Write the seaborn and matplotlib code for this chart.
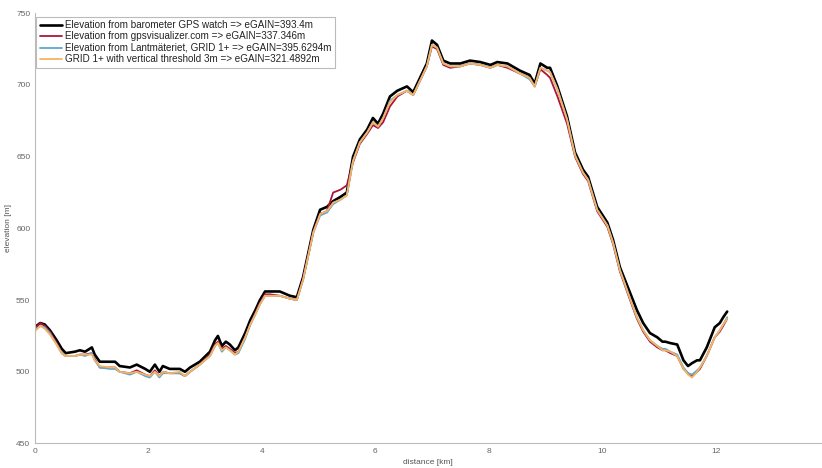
import numpy as np
import pandas as pd
import matplotlib
matplotlib.use("Agg")
import matplotlib.pyplot as plt
import seaborn as sns

distance_km = [0.00, 0.10, 0.18, 0.27, 0.39, 0.48, 0.55, 0.71, 0.80, 0.89, 1.01, 1.06, 1.15, 1.33, 1.42,
               1.50, 1.68, 1.80, 1.95, 2.03, 2.12, 2.20, 2.26, 2.38, 2.56, 2.65, 2.74, 2.91, 3.09, 3.18,
               3.23, 3.30, 3.37, 3.44, 3.53, 3.59, 3.71, 3.80, 3.89, 3.97, 4.06, 4.15, 4.32, 4.50, 4.62,
               4.73, 4.91, 5.03, 5.15, 5.26, 5.39, 5.50, 5.61, 5.73, 5.86, 5.96, 6.05, 6.14, 6.26, 6.39,
               6.56, 6.67, 6.79, 6.91, 7.00, 7.09, 7.20, 7.32, 7.50, 7.67, 7.85, 8.03, 8.15, 8.33, 8.55,
               8.72, 8.81, 8.91, 9.03, 9.08, 9.21, 9.38, 9.52, 9.66, 9.75, 9.91, 10.09, 10.19, 10.31, 10.49,
               10.61, 10.72, 10.84, 10.97, 11.06, 11.11, 11.20, 11.32, 11.43, 11.51, 11.58, 11.67, 11.72,
               11.84, 11.98, 12.07, 12.13, 12.20]

elev_barometer = [531, 534, 533, 529, 522, 516, 513, 514, 515, 514, 517, 512, 507, 507, 507,
                  504, 503, 505, 502, 500, 505, 500, 504, 502, 502, 500, 503, 507, 514, 522,
                  525, 518, 521, 519, 515, 517, 527, 536, 543, 550, 556, 556, 556, 553, 552,
                  566, 599, 613, 615, 619, 622, 625, 650, 662, 669, 677, 673, 680, 692, 696,
                  699, 695, 705, 715, 731, 728, 717, 715, 715, 717, 716, 714, 716, 715, 710,
                  707, 701, 715, 712, 712, 699, 678, 653, 641, 636, 615, 604, 592, 573, 555,
                  543, 534, 527, 524, 521, 521, 520, 519, 508, 504, 506, 508, 508,
                  517, 531, 534, 538, 542]

elev_gpsvisualizer = [530, 534, 532, 528, 520, 513, 511, 511, 512, 512, 513, 509, 503, 503, 503,
                      500, 499, 501, 498, 497, 501, 497, 500, 499, 499, 497, 500, 505, 512, 519,
                      521, 516, 518, 516, 513, 514, 524, 533, 541, 548, 554, 554, 553, 551, 550,
                      565, 598, 610, 612, 625, 627, 630, 646, 659, 666, 672, 670, 674, 685, 692,
                      696, 693, 703, 713, 727, 725, 714, 712, 713, 715, 714, 712, 714, 712, 708,
                      705, 699, 711, 707, 705, 692, 673, 650, 638, 633, 612, 601, 589, 570, 550,
                      537, 528, 521, 517, 515, 515, 513, 511, 502, 499, 497, 500, 502,
                      511, 524, 528, 532, 537]

elev_lantmateriet = [529, 532, 531, 527, 519, 513, 511, 511, 512, 511, 513, 508, 503, 502, 502,
                     500, 498, 500, 497, 496, 500, 496, 499, 499, 499, 497, 500, 505, 511, 518,
                     520, 514, 517, 515, 512, 513, 523, 533, 540, 547, 553, 553, 553, 551, 550,
                     564, 597, 609, 611, 617, 620, 623, 647, 660, 667, 674, 671, 677, 689, 693,
                     696, 693, 703, 713, 728, 726, 715, 713, 713, 715, 714, 712, 714, 713, 708,
                     704, 699, 712, 710, 709, 697, 676, 651, 639, 634, 613, 602, 590, 571, 551,
                     538, 529, 522, 518, 516, 516, 514, 512, 503, 499, 498, 501, 503,
                     511, 524, 529, 533, 538]

elev_threshold = [528, 532, 530, 526, 519, 513, 511, 511, 512, 512, 512, 508, 504, 503, 503,
                  500, 499, 500, 498, 497, 500, 497, 500, 499, 500, 497, 500, 505, 511, 518,
                  520, 515, 517, 515, 512, 514, 524, 533, 540, 547, 553, 553, 553, 551, 550,
                  564, 597, 610, 612, 618, 620, 623, 647, 660, 667, 674, 671, 677, 688, 693,
                  696, 693, 703, 713, 728, 726, 715, 713, 713, 715, 714, 712, 714, 713, 708,
                  705, 699, 712, 710, 709, 697, 676, 651, 639, 634, 613, 602, 590, 571, 551,
                  538, 529, 522, 518, 515, 515, 514, 511, 502, 498, 496, 500, 503,
                  511, 524, 529, 533, 537]

series_labels = ["Elevation from barometer GPS watch => eGAIN=393.4m",
                 "Elevation from gpsvisualizer.com => eGAIN=337.346m",
                 "Elevation from Lantmäteriet, GRID 1+ => eGAIN=395.6294m",
                 "GRID 1+ with vertical threshold 3m => eGAIN=321.4892m"]
series_values = [elev_barometer, elev_gpsvisualizer, elev_lantmateriet, elev_threshold]
series_colors = ["#000000", "#b0123a", "#5fa6cc", "#f5b461"]
series_widths = [1.9, 1.3, 1.3, 1.3]

sns.set_theme(style="white")
plt.rcParams['font.family'] = ['Liberation Sans', 'DejaVu Sans']

fig = plt.figure(figsize=(8.22, 4.68), dpi=100)
ax = fig.add_axes([0.042, 0.0524, 0.958, 0.9192])

for lab, vals, col, lw in zip(series_labels, series_values, series_colors, series_widths):
    df = pd.DataFrame({"distance": distance_km, "elevation": vals})
    sns.lineplot(data=df, x="distance", y="elevation", ax=ax, color=col, lw=lw, label=lab)

ax.set_xlim(0, 13.87)
ax.set_ylim(450, 750)
ax.set_xticks([0, 2, 4, 6, 8, 10, 12])
ax.set_yticks([450, 500, 550, 600, 650, 700, 750])
ax.set_xlabel("distance [km]", fontsize=6, color="#555555", labelpad=3)
ax.set_ylabel("elevation [m]", fontsize=6, color="#555555", labelpad=3)
ax.tick_params(axis="both", direction="in", length=3, width=0.7, colors="#aaaaaa",
               labelcolor="#666666", labelsize=6, pad=3)
for side in ["top", "right"]:
    ax.spines[side].set_visible(False)
for side in ["left", "bottom"]:
    ax.spines[side].set_color("#bbbbbb")
    ax.spines[side].set_linewidth(0.8)

leg = ax.legend(loc="upper left", bbox_to_anchor=(0.0, 0.997), fontsize=7.1, frameon=True,
                fancybox=False, edgecolor="#bbbbbb", framealpha=1, handlelength=2.2,
                handletextpad=0.35, labelspacing=0.15, borderpad=0.35, borderaxespad=0.2)
leg.get_frame().set_linewidth(0.8)
for t in leg.get_texts():
    t.set_color("#222222")

fig.savefig("out.png", dpi=100)
